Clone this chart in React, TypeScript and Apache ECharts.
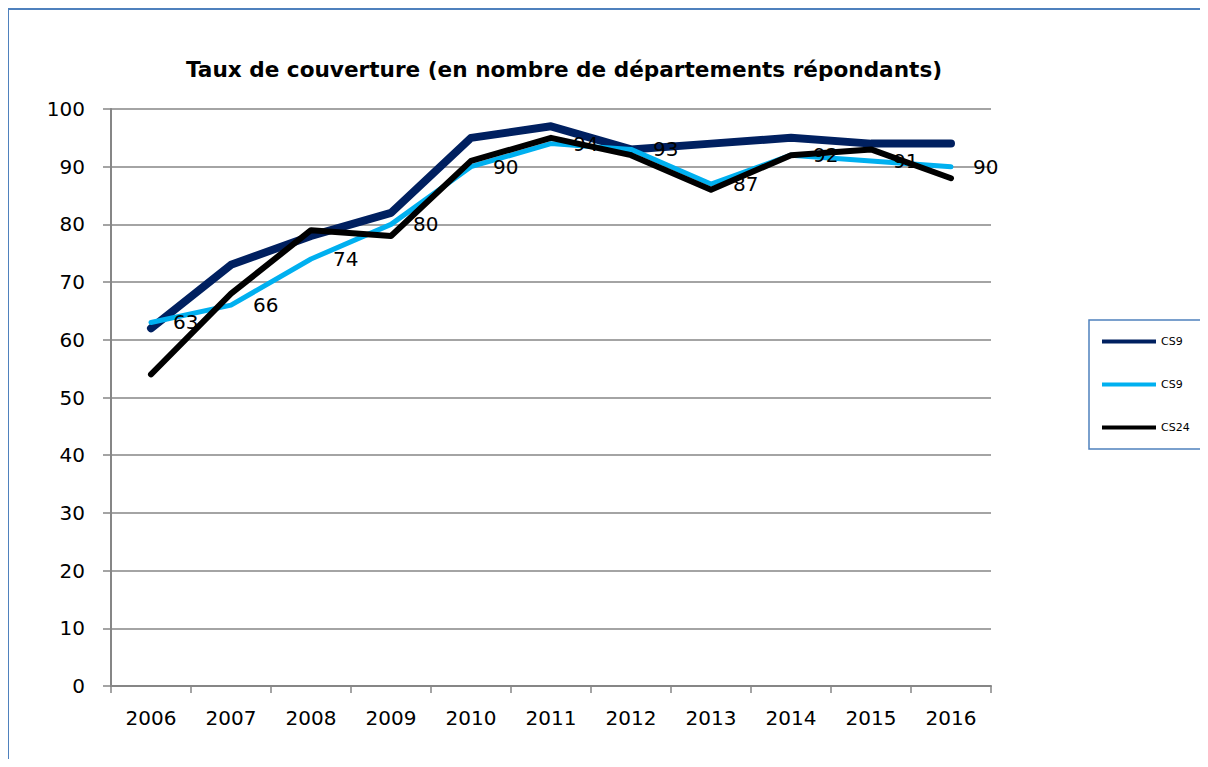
import React, { useEffect, useRef } from "react";
import * as echarts from "echarts";

const years = ["2006", "2007", "2008", "2009", "2010", "2011", "2012", "2013", "2014", "2015", "2016"];
const cs9Dark = [62, 73, 78, 82, 95, 97, 93, 94, 95, 94, 94];
const cs9Light = [63, 66, 74, 80, 90, 94, 93, 87, 92, 91, 90];
const cs24 = [54, 68, 79, 78, 91, 95, 92, 86, 92, 93, 88];
const seriesIds = ["CS9_a", "CS9_b", "CS24_c"];
const titleText = "Taux de couverture (en nombre de départements répondants)";

const FONT = "DejaVu Sans";

export default function App() {
  const ref = useRef<HTMLDivElement>(null);
  useEffect(() => {
    if (!ref.current) return;
    const chart = echarts.init(ref.current, undefined, { renderer: "svg" });
    chart.setOption({
      animation: false,
      backgroundColor: "#ffffff",
      title: {
        text: titleText,
        left: 551,
        textAlign: "center",
        top: 45,
        textStyle: { fontFamily: FONT, fontSize: 21.6, fontWeight: "bold", color: "#000" },
      },
      graphic: [
        { type: "line", shape: { x1: 0, y1: 1, x2: 1200, y2: 1 }, style: { stroke: "#4F81BD", lineWidth: 2 } },
        { type: "line", shape: { x1: 0, y1: 0, x2: 0, y2: 751 }, style: { stroke: "#4F81BD", lineWidth: 2 } },
      ],
      legend: {
        orient: "vertical",
        left: 1081,
        top: 312,
        data: seriesIds,
        formatter: (n: string) => n.split("_")[0],
        icon: "rect",
        itemWidth: 54,
        itemHeight: 4,
        itemGap: 30,
        padding: [15, 12, 15, 13],
        borderColor: "#4F81BD",
        borderWidth: 1.5,
        textStyle: { fontFamily: FONT, fontSize: 11, color: "#000", lineHeight: 13 },
      },
      grid: { left: 103, top: 101, width: 880, height: 577, containLabel: false },
      xAxis: {
        type: "category",
        data: years,
        boundaryGap: true,
        axisLine: { lineStyle: { color: "#868686", width: 2 } },
        axisTick: { show: true, interval: 0, length: 7, lineStyle: { color: "#868686", width: 1.5 } },
        axisLabel: { fontFamily: FONT, fontSize: 20, color: "#000", margin: 22, interval: 0 },
      },
      yAxis: {
        type: "value",
        min: 0,
        max: 100,
        interval: 10,
        axisLine: { show: true, lineStyle: { color: "#868686", width: 2 } },
        axisTick: { show: true, length: 8, lineStyle: { color: "#868686", width: 1.5 } },
        axisLabel: { fontFamily: FONT, fontSize: 20, color: "#000", margin: 26 },
        splitLine: { lineStyle: { color: "#868686", width: 1.5 } },
      },
      series: [
        {
          name: seriesIds[0],
          type: "line",
          data: cs9Dark,
          symbol: "none",
          color: "#002060",
          lineStyle: { width: 8, color: "#002060", cap: "round", join: "round" },
          z: 2,
        },
        {
          name: seriesIds[1],
          type: "line",
          data: cs9Light,
          symbol: "circle",
          symbolSize: 0.1,
          showSymbol: true,
          color: "#00B0F0",
          itemStyle: { color: "#00B0F0" },
          lineStyle: { width: 5, color: "#00B0F0", cap: "round", join: "round" },
          label: {
            show: true,
            position: "right",
            distance: 22,
            fontFamily: FONT,
            fontSize: 20,
            color: "#000",
          },
          z: 2,
        },
        {
          name: seriesIds[2],
          type: "line",
          data: cs24,
          symbol: "none",
          color: "#000000",
          lineStyle: { width: 6, color: "#000000", cap: "round", join: "round" },
          z: 4,
        },
      ],
    });
    return () => chart.dispose();
  }, []);
  return <div ref={ref} style={{ width: 1200, height: 751 }} />;
}
